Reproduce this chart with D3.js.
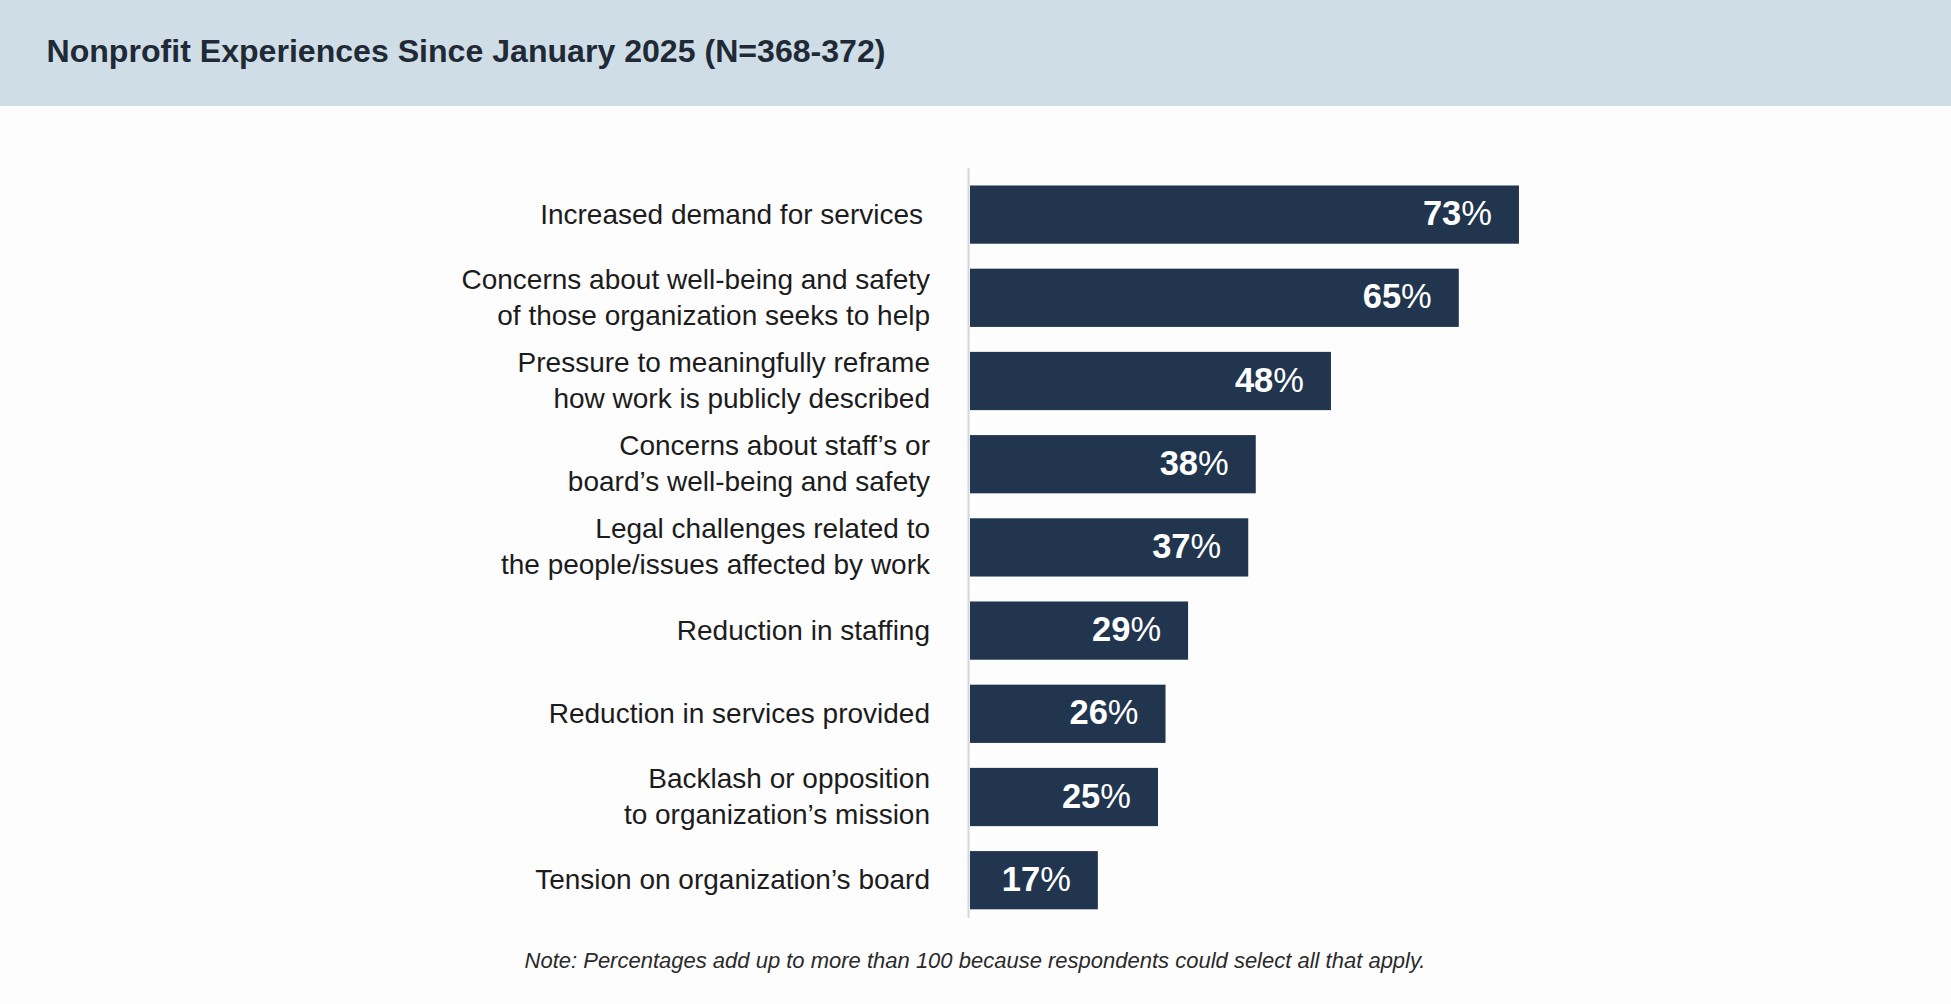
<!DOCTYPE html>
<html>
<head>
<meta charset="utf-8">
<script src="https://cdn.jsdelivr.net/npm/d3@7"></script>
<style>
  html, body { margin: 0; padding: 0; background: #fdfdfd; }
  svg { display: block; }
</style>
</head>
<body>
<svg id="chart" width="1951" height="1004"></svg>
<script>
const title = "Nonprofit Experiences Since January 2025 (N=368-372)";
const note = "Note: Percentages add up to more than 100 because respondents could select all that apply.";
const categories = [
  ["Increased demand for services"],
  ["Concerns about well-being and safety", "of those organization seeks to help"],
  ["Pressure to meaningfully reframe", "how work is publicly described"],
  ["Concerns about staff\u2019s or", "board\u2019s well-being and safety"],
  ["Legal challenges related to", "the people/issues affected by work"],
  ["Reduction in staffing"],
  ["Reduction in services provided"],
  ["Backlash or opposition", "to organization\u2019s mission"],
  ["Tension on organization\u2019s board"]
];
const values = [73, 65, 48, 38, 37, 29, 26, 25, 17];

const W = 1951, H = 1004;
const svg = d3.select("#chart");

// background
svg.append("rect").attr("x", 0).attr("y", 0).attr("width", W).attr("height", H).attr("fill", "#fdfdfd");
svg.append("rect").attr("x", 0).attr("y", 0).attr("width", W).attr("height", 106).attr("fill", "#cfdde6");

// title
svg.append("text")
  .attr("x", 46.5).attr("y", 62)
  .attr("font-family", "'Liberation Sans', Arial, sans-serif")
  .attr("font-weight", 700)
  .attr("font-size", 31.5)
  .attr("fill", "#1f2a36")
  .attr("textLength", 839)
  .attr("lengthAdjust", "spacingAndGlyphs")
  .text(title);

const idx = d3.range(values.length);
const x = d3.scaleLinear().domain([0, 100]).range([970, 1722]);
const y = d3.scaleBand().domain(idx).range([173, 921.8]).paddingInner(0.3).paddingOuter(0.15);

// axis line
svg.append("line")
  .attr("x1", 968.5).attr("x2", 968.5)
  .attr("y1", 168).attr("y2", 918)
  .attr("stroke", "#d4d6d8").attr("stroke-width", 2);

// bars
svg.append("g").selectAll("rect").data(idx).join("rect")
  .attr("x", x(0))
  .attr("y", i => y(i))
  .attr("width", i => x(values[i]) - x(0))
  .attr("height", y.bandwidth())
  .attr("fill", "#21354f");

// value labels
const vl = svg.append("g").selectAll("text").data(idx).join("text")
  .attr("x", i => x(values[i]) - 27)
  .attr("y", i => y(i) + y.bandwidth() / 2 + 10.5)
  .attr("text-anchor", "end")
  .attr("font-family", "'Liberation Sans', Arial, sans-serif")
  .attr("font-size", 34.5)
  .attr("fill", "#ffffff");
vl.append("tspan").attr("font-weight", 700).text(i => values[i]);
vl.append("tspan").attr("font-weight", 400).text("%");

// category labels
const lg = svg.append("g").selectAll("text").data(idx).join("text")
  .attr("text-anchor", "end")
  .attr("font-family", "'Liberation Sans', Arial, sans-serif")
  .attr("font-size", 28)
  .attr("fill", "#1c1c1c");
lg.each(function(i) {
  const lines = categories[i];
  const cy = y(i) + y.bandwidth() / 2 + 9;
  const n = lines.length;
  const sel = d3.select(this);
  lines.forEach((ln, k) => {
    sel.append("tspan")
      .attr("x", i === 0 ? 923 : 930)
      .attr("y", cy + (k - (n - 1) / 2) * 36)
      .text(ln);
  });
});

// note
svg.append("text")
  .attr("x", 975).attr("y", 968)
  .attr("text-anchor", "middle")
  .attr("font-family", "'Liberation Sans', Arial, sans-serif")
  .attr("font-style", "italic")
  .attr("font-size", 22)
  .attr("fill", "#2a2a2a")
  .text(note);
</script>
</body>
</html>
